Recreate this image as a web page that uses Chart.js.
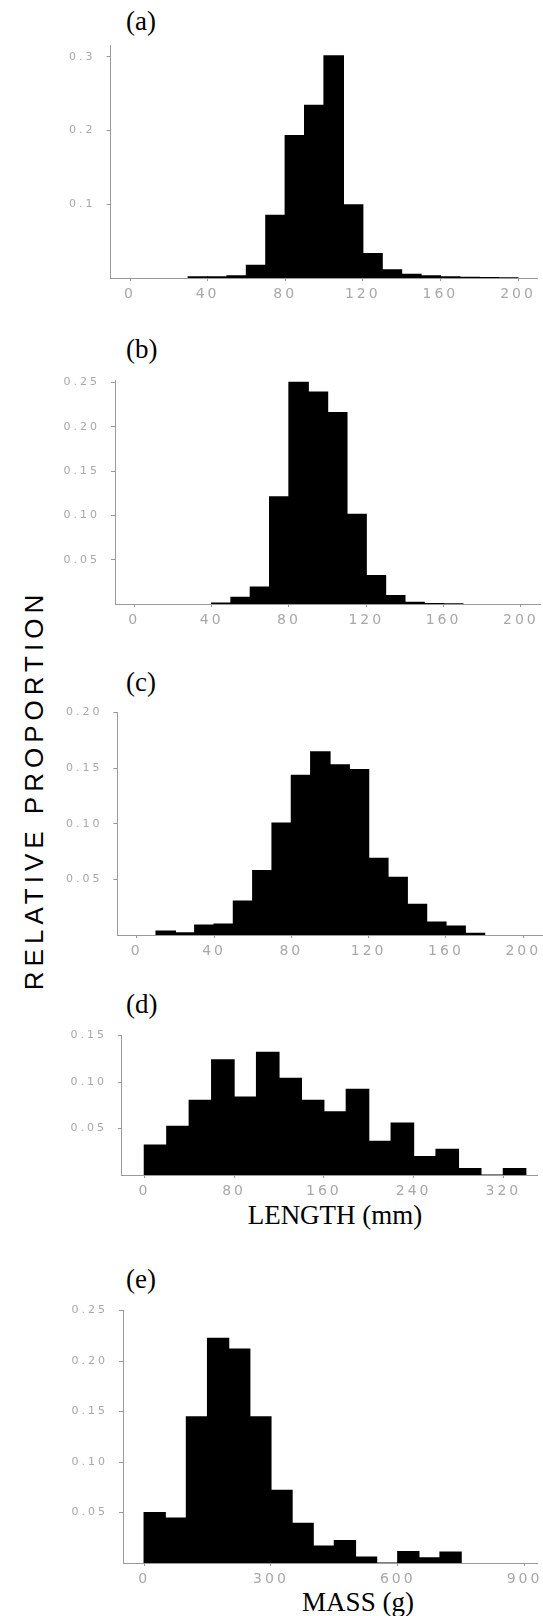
<!DOCTYPE html>
<html>
<head>
<meta charset="utf-8">
<title>Relative proportion histograms</title>
<script src="https://cdn.jsdelivr.net/npm/chart.js@4.4.0/dist/chart.umd.min.js"></script>
<style>
  body { margin: 0; background: #fff; }
  #page { position: relative; width: 543px; height: 1616px; overflow: hidden; background: #fff; }
  #page canvas { position: absolute; left: 0; }
  .tag { position: absolute; left: 126px; font-family: "Liberation Serif", "Times New Roman", serif; font-size: 27px; line-height: 27px; color: #000; white-space: nowrap; }
  .xtitle { position: absolute; font-family: "Liberation Serif", "Times New Roman", serif; font-size: 27px; line-height: 27px; color: #000; white-space: nowrap; transform: translateX(-50%); }
  #ytitle { position: absolute; left: 34px; top: 790px; transform: translate(-50%, -50%) rotate(-90deg); font-family: "Liberation Sans", Arial, sans-serif; font-size: 26px; letter-spacing: 5px; color: #000; white-space: nowrap; }
</style>
</head>
<body>
<div id="page">
  <div class="tag" style="top:8px">(a)</div>
  <div class="tag" style="top:336px">(b)</div>
  <div class="tag" style="top:669px">(c)</div>
  <div class="tag" style="top:991px">(d)</div>
  <div class="tag" style="top:1266px">(e)</div>
  <div class="xtitle" style="left:335px;top:1202px">LENGTH (mm)</div>
  <div class="xtitle" style="left:358px;top:1589px">MASS (g)</div>
  <div id="ytitle">RELATIVE PROPORTION</div>
  <canvas id="chartA"></canvas>
  <canvas id="chartB"></canvas>
  <canvas id="chartC"></canvas>
  <canvas id="chartD"></canvas>
  <canvas id="chartE"></canvas>
</div>
<script>
'use strict';

//========== Data ==========
// (a) length, bins of 10 mm (lower edges)
let binsA = [30, 40, 50, 60, 70, 80, 90, 100, 110, 120, 130, 140, 150, 160, 170, 180, 190];
let propA = [0.0015, 0.0015, 0.003, 0.017, 0.085, 0.193, 0.234, 0.301, 0.099, 0.033, 0.011, 0.005, 0.003, 0.0015, 0.001, 0.0005, 0.0003];
let xTicksA = [0, 40, 80, 120, 160, 200];
let yTicksA = [0.1, 0.2, 0.3];

// (b) length, bins of 10 mm
let binsB = [40, 50, 60, 70, 80, 90, 100, 110, 120, 130, 140, 150, 160];
let propB = [0.001, 0.0074, 0.019, 0.121, 0.250, 0.239, 0.216, 0.101, 0.032, 0.0096, 0.002, 0.0005, 0.0003];
let xTicksB = [0, 40, 80, 120, 160, 200];
let yTicksB = [0.05, 0.10, 0.15, 0.20, 0.25];

// (c) length, bins of 10 mm
let binsC = [10, 20, 30, 40, 50, 60, 70, 80, 90, 100, 110, 120, 130, 140, 150, 160, 170];
let propC = [0.0036, 0.002, 0.0089, 0.0098, 0.0305, 0.058, 0.1006, 0.1435, 0.1648, 0.153, 0.1488, 0.0689, 0.0518, 0.0275, 0.0115, 0.008, 0.0015];
let xTicksC = [0, 40, 80, 120, 160, 200];
let yTicksC = [0.05, 0.10, 0.15, 0.20];

// (d) length, bins of 20 mm
let binsD = [0, 20, 40, 60, 80, 100, 120, 140, 160, 180, 200, 220, 240, 260, 280, 300, 320];
let propD = [0.0321, 0.0523, 0.0803, 0.1239, 0.0837, 0.1319, 0.104, 0.0803, 0.068, 0.0921, 0.0363, 0.0558, 0.0199, 0.0276, 0.007, 0, 0.007];
let xTicksD = [0, 80, 160, 240, 320];
let yTicksD = [0.05, 0.10, 0.15];

// (e) mass, bins of 50 g
let binsE = [0, 50, 100, 150, 200, 250, 300, 350, 400, 450, 500, 550, 600, 650, 700];
let propE = [0.05, 0.0444, 0.1448, 0.2225, 0.2118, 0.1448, 0.0719, 0.0392, 0.0167, 0.0222, 0.0059, 0, 0.0114, 0.0052, 0.0108];
let xTicksE = [0, 300, 600, 900];
let yTicksE = [0.05, 0.10, 0.15, 0.20, 0.25];

//========== Layout (plot area boxes, px) ==========
let pageWidth = 543;
let boxes = {
  a: { left: 110.6, right: 537.4, top: 42, bottom: 278.3 },
  b: { left: 115, right: 540.2, top: 376.7, bottom: 604 },
  c: { left: 117.4, right: 542.6, top: 709.3, bottom: 935 },
  d: { left: 121.9, right: 537, top: 1031.7, bottom: 1175 },
  e: { left: 123, right: 540.5, top: 1307.3, bottom: 1562.7 }
};

let axisGray = '#9a9a9a';
let labelGray = '#a8a8a8';

// wide-looking tick labels
let spacingPlugin = {
  id: 'tickSpacing',
  beforeDraw(chart) {
    chart.ctx.letterSpacing = '3px';
  }
};

//========== Helpers ==========
function makePanel(canvasId, box, bins, values, binWidth, xMin, xMax, yMax, xTicks, yTicks, decimals) {
  let canvas = document.getElementById(canvasId);
  let canvasTop = Math.round(box.top - 14);
  let canvasBottom = Math.round(box.bottom + 30);
  canvas.width = pageWidth;
  canvas.height = canvasBottom - canvasTop;
  canvas.style.top = canvasTop + 'px';

  let points = [];
  for (let i = 0; i < bins.length; i++) {
    points.push({ x: bins[i] + binWidth / 2, y: values[i] });
  }

  return new Chart(canvas, {
    type: 'bar',
    data: {
      datasets: [{
        data: points,
        backgroundColor: '#000',
        borderWidth: 0,
        barPercentage: 1,
        categoryPercentage: 1,
        inflateAmount: 0.6
      }]
    },
    options: {
      responsive: false,
      animation: false,
      layout: {
        padding: { top: box.top - canvasTop, right: pageWidth - box.right, bottom: 0, left: 0 }
      },
      plugins: {
        legend: { display: false },
        tooltip: { enabled: false }
      },
      scales: {
        x: {
          type: 'linear',
          min: xMin,
          max: xMax,
          offset: false,
          grid: { offset: false, drawOnChartArea: false, tickLength: 3, color: axisGray },
          border: { color: axisGray, width: 1, dash: [2, 1] },
          ticks: {
            color: labelGray,
            padding: 5,
            maxRotation: 0,
            autoSkip: false,
            font: { family: 'DejaVu Sans', size: 14 }
          },
          afterBuildTicks: function (scale) {
            scale.ticks = xTicks.map(v => ({ value: v }));
          },
          afterFit: function (scale) {
            scale.height = 30;
          }
        },
        y: {
          min: 0,
          max: yMax,
          grid: { drawOnChartArea: false, tickLength: 4, color: axisGray },
          border: { color: axisGray, width: 1, dash: [3, 1] },
          ticks: {
            color: labelGray,
            padding: 11,
            font: { family: 'DejaVu Sans', size: 11 },
            callback: function (value) {
              return Number(value).toFixed(decimals);
            }
          },
          afterBuildTicks: function (scale) {
            scale.ticks = yTicks.map(v => ({ value: v }));
          },
          afterFit: function (scale) {
            scale.width = box.left;
          }
        }
      }
    },
    plugins: [spacingPlugin]
  });
}

//========== Charts ==========
makePanel('chartA', boxes.a, binsA, propA, 10, -10, 210, 0.315, xTicksA, yTicksA, 1);
makePanel('chartB', boxes.b, binsB, propB, 10, -10, 210, 0.252, xTicksB, yTicksB, 2);
makePanel('chartC', boxes.c, binsC, propC, 10, -10, 210, 0.20, xTicksC, yTicksC, 2);
makePanel('chartD', boxes.d, binsD, propD, 20, -20, 350, 0.15, xTicksD, yTicksD, 2);
makePanel('chartE', boxes.e, binsE, propE, 50, -50, 930, 0.25, xTicksE, yTicksE, 2);
</script>
</body>
</html>
